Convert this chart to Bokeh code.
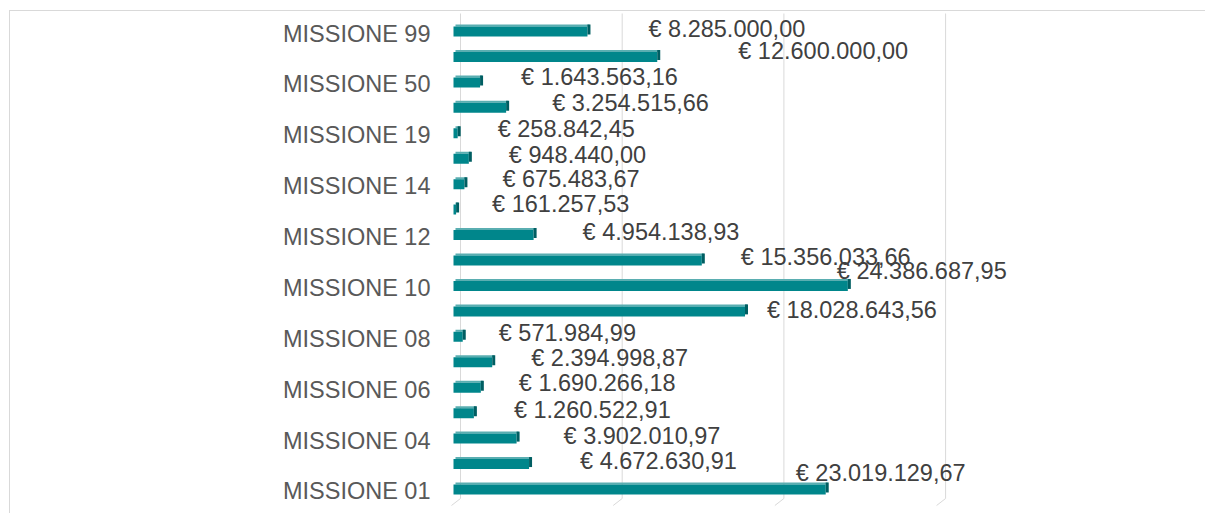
from bokeh.plotting import figure
from bokeh.models import ColumnDataSource, LinearAxis, Range1d, FixedTicker
from bokeh.core.properties import value
from bokeh.embed import file_html
from bokeh.resources import INLINE

# ---------------- data ----------------
categories = ["MISSIONE 01", "MISSIONE 03", "MISSIONE 04", "MISSIONE 05", "MISSIONE 06",
              "MISSIONE 07", "MISSIONE 08", "MISSIONE 09", "MISSIONE 10", "MISSIONE 11",
              "MISSIONE 12", "MISSIONE 13", "MISSIONE 14", "MISSIONE 16", "MISSIONE 19",
              "MISSIONE 20", "MISSIONE 50", "MISSIONE 60", "MISSIONE 99"]
amounts = [23019129.67, 4672630.91, 3902010.97, 1260522.91, 1690266.18,
           2394998.87, 571984.99, 18028643.56, 24386687.95, 15356033.66,
           4954138.93, 161257.53, 675483.67, 948440.00, 258842.45,
           3254515.66, 1643563.16, 12600000.00, 8285000.00]
shown_tick_labels = ["MISSIONE 01", "MISSIONE 04", "MISSIONE 06", "MISSIONE 08", "MISSIONE 10",
                     "MISSIONE 12", "MISSIONE 14", "MISSIONE 19", "MISSIONE 50", "MISSIONE 99"]
grid_values = [0, 10_000_000, 20_000_000, 30_000_000]

# label nudges in screen pixels (layout, not data)
label_dx = [-30, 51, 47, 40, 38, 39, 36, 22, -11, 39, 49, 36, 38, 40, 40, 46, 41, 81, 61]
label_dy = [-15, -2, -2, -2, -4, -3, -3, 0, -14, -2, -2, -5, -4, -3, -3, -4, -4, -5, -2]


def eur(v):
    s = f"{v:,.2f}".replace(",", "X").replace(".", ",").replace("X", ".")
    return "€ " + s


# ---------------- layout constants ----------------
W, H = 1196, 503
LEFT = 430
FRAME_W = W - LEFT
PX_PER_EUR = 16.17 / 1e6
ZERO_PX = 13
PX_CAT = 25.44

x_start = -ZERO_PX / PX_PER_EUR
x_end = x_start + FRAME_W / PX_PER_EUR
y_start = -26 / PX_CAT
y_end = (len(categories) - 1) + 19 / PX_CAT

idx = list(range(len(categories)))
px = lambda n: n / PX_PER_EUR   # pixels -> euros
py = lambda n: n / PX_CAT        # pixels -> category units

src = ColumnDataSource(dict(
    y=idx,
    amount=amounts,
    side_right=[a + px(3) for a in amounts],
    top_left=[px(2)] * len(amounts),
    top_right=[a + px(2) for a in amounts],
    y_front=[i - py(1) for i in idx],
    y_top=[i + py(5) for i in idx],
    y_side=[i + py(1) for i in idx],
    label=[eur(a) for a in amounts],
    dx=label_dx,
    dy=label_dy,
))

p = figure(width=W, height=H, output_backend="svg", toolbar_location=None,
           x_range=Range1d(x_start, x_end), y_range=Range1d(y_start, y_end),
           x_axis_location=None, y_axis_location=None,
           min_border_left=LEFT, min_border_right=0, min_border_top=0, min_border_bottom=0,
           background_fill_color="white", border_fill_color="white")
p.outline_line_color = None
p.grid.visible = False
p.margin = (10, 0, 0, 9)
p.styles = {"border-top": "1px solid #d9d9d9", "border-left": "1px solid #d9d9d9"}

# back-wall gridlines and floor edges
wall_top = y_end - py(2)
wall_bottom = y_start + py(16)
floor = y_start + py(9)
gx = [g + px(7) for g in grid_values]
p.segment(x0=gx, y0=[wall_bottom] * len(gx), x1=gx, y1=[wall_top] * len(gx),
          line_color="#d9d9d9", line_width=1)
p.segment(x0=gx, y0=[wall_bottom] * len(gx), x1=[g - px(2) for g in grid_values],
          y1=[floor] * len(gx), line_color="#d9d9d9", line_width=1)

# 3D-looking bars
p.hbar(y="y_top", left="top_left", right="top_right", height=py(2), source=src,
       fill_color="#5aaeb1", line_color=None)
p.hbar(y="y_front", left=0, right="amount", height=py(10), source=src,
       fill_color="#00868b", line_color=None)
p.hbar(y="y_side", left="amount", right="side_right", height=py(10), source=src,
       fill_color="#005e62", line_color=None)

# value labels
p.text(x="amount", y="y", text="label", x_offset="dx", y_offset="dy", source=src,
       text_align="left", text_baseline="middle", text_font=value("Liberation Sans"),
       text_font_size="23.5px", text_color="#404040")

# category axis
p.extra_y_ranges = {"lab": Range1d(y_start + py(3), y_end + py(3))}
ax = LinearAxis(y_range_name="lab")
ticks = [i for i, c in enumerate(categories) if c in shown_tick_labels]
ax.ticker = FixedTicker(ticks=ticks)
ax.major_label_overrides = {i: categories[i] for i in ticks}
ax.axis_line_color = None
ax.major_tick_line_color = None
ax.minor_tick_line_color = None
ax.major_tick_out = 0
ax.major_tick_in = 0
ax.major_label_standoff = 10
ax.major_label_text_font = "Liberation Sans"
ax.major_label_text_font_size = "23.5px"
ax.major_label_text_color = "#595959"
p.add_layout(ax, "left")

open("out.html", "w").write(file_html(p, INLINE))
